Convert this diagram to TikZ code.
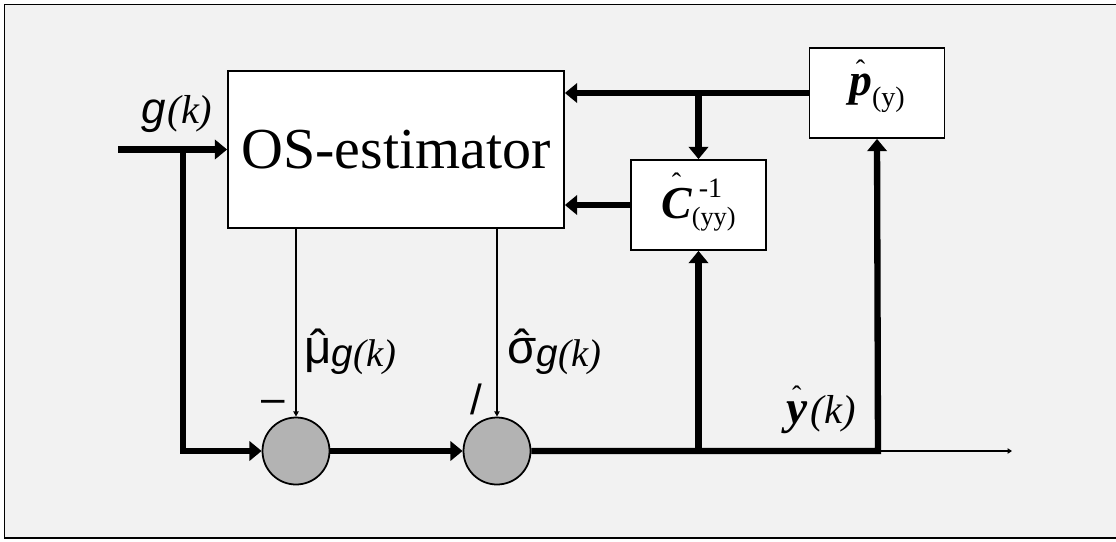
\documentclass[tikz,border=0pt]{standalone}
\usepackage{fontspec}
\setmainfont{Liberation Serif}
\setsansfont{Liberation Sans}
\usepackage{tikz}
\usetikzlibrary{arrows.meta,positioning,calc}
\definecolor{Panel}{HTML}{F2F2F2}
\definecolor{Junction}{HTML}{B3B3B3}
\newcommand{\fsz}[1]{\fontsize{#1}{#1}\selectfont}
\newcommand{\hatover}[2]{\mbox{\ooalign{#2\cr\hidewidth\raisebox{#1}{\mdseries\upshape ˆ}\hidewidth\cr}}}
\newcommand{\smallhat}[2]{\mbox{\ooalign{#2\cr\hidewidth\raisebox{#1}{\mdseries\upshape\fsz{16}ˆ}\hidewidth\cr}}}

\begin{document}
\begin{tikzpicture}[
    block/.style={rectangle,draw,line width=1pt,fill=white,inner sep=0pt,minimum width=2.7cm,minimum height=1.8cm},
    junction/.style={circle,draw,line width=1pt,fill=Junction,minimum size=1.34cm,inner sep=0pt},
    sig/.style={inner sep=0pt,anchor=base west},
    sign/.style={inner sep=0pt,anchor=base,font=\sffamily\fsz{24}},
    bus/.style={line width=3.6pt,line join=miter},
    busarrow/.style={bus,-{Triangle[length=7pt,width=11pt]}},
    wire/.style={line width=0.8pt,-{Triangle[length=3pt,width=3pt]}}
]
\useasboundingbox (0,0) rectangle (22.32,-10.82);
\fill[white] (0,0) rectangle (22.32,-10.82);
\fill[Panel] (0.09,-0.09) rectangle (22.6,-10.76);
\draw[line width=1pt] (22.6,-0.09) -- (0.09,-0.09) -- (0.09,-10.76) -- (22.6,-10.76);

\node[block,minimum width=6.72cm,minimum height=3.14cm,font=\fsz{33}] (est) at (7.92,-2.99) {OS-estimator};
\node[block] (pest) at (17.54,-1.86) {{\bfseries\itshape\fsz{26}\smallhat{9pt}{p}}{\fsz{16}\raisebox{-6pt}{(y)}}};
\node[block] (cinv) at (13.97,-4.10) {{\bfseries\itshape\fsz{26}\smallhat{15pt}{C}}\raisebox{12pt}{\rlap{\fsz{16}\hspace{4pt}-1}}{\fsz{15}\raisebox{-4pt}{(yy)}}};
\node[junction] (sub) at (5.92,-9.02) {};
\node[junction] (dv) at (9.94,-9.02) {};

\coordinate (gin) at (2.36,-2.99);
\coordinate (gsplit) at (3.66,-2.99);
\coordinate (ycorner) at (17.56,-9.02);
\coordinate (yout) at (20.24,-9.02);

\node[sig] (glab) at (2.82,-2.46) {{\sffamily\itshape\fsz{25}g}{\itshape\fsz{23}\hspace{1pt}(k)}};
\node[sig] (mulab) at (6.08,-7.26) {{\sffamily\fsz{27}\hatover{0pt}{μ}}\raisebox{-2pt}{{\sffamily\itshape\fsz{22}g}{\itshape\fsz{22}(k)}}};
\node[sig] (sglab) at (10.14,-7.26) {{\sffamily\fsz{27}\hatover{0pt}{σ}}\raisebox{-2pt}{{\sffamily\itshape\fsz{22}g}{\itshape\fsz{22}(k)}}};
\node[sig] (ylab) at (15.72,-8.46) {{\bfseries\itshape\fsz{27}\smallhat{10pt}{y}}{\itshape\fsz{23}\hspace{2pt}(k)}};
\node[sign] (minus) at (5.46,-8.25) {–};
\node[sign] (slash) at (9.52,-8.28) {/};

\draw[busarrow] (gin) -- (est.west);
\draw[busarrow] (gsplit) |- (sub.west);
\draw[busarrow] (sub.east) -- (dv.west);
\draw[busarrow] (dv.east) -- (ycorner) -- (pest.south);
\draw[busarrow] (cinv.south |- sub) -- (cinv.south);
\draw[busarrow] (pest.west) -- (est.east |- pest.west);
\draw[busarrow] (cinv.north |- pest.west) -- (cinv.north);
\draw[busarrow] (cinv.west) -- (est.east |- cinv.west);
\draw[wire] (est.south -| sub.north) -- (sub.north);
\draw[wire] (est.south -| dv.north) -- (dv.north);
\draw[line width=0.85pt,-{Triangle[length=2.5pt,width=3pt]}] (ycorner) -- (yout);
\end{tikzpicture}
\end{document}
